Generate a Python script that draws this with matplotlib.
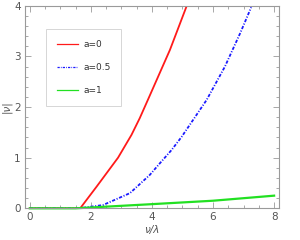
import matplotlib
matplotlib.use("Agg")
import matplotlib.pyplot as plt
from matplotlib.ticker import MultipleLocator

# ── Curves ────────────────────────────────────────────────────────────────────
red_x   = [0.0, 1.65, 2.19, 2.89, 3.33, 3.60, 3.88, 4.59, 5.14]
red_y   = [0.0, 0.00, 0.43, 1.00, 1.45, 1.78, 2.16, 3.13, 4.00]

blue_x  = [0.0, 1.60, 2.40, 3.28, 3.93, 4.26, 4.64, 4.97, 5.79, 6.39, 6.89, 7.25]
blue_y  = [0.0, 0.00, 0.065, 0.30, 0.66, 0.89, 1.15, 1.41, 2.14, 2.80, 3.46, 3.97]

green_x = [0.0, 1.50, 3.93, 6.00, 8.00]
green_y = [0.0, 0.00, 0.08, 0.15, 0.25]

labels = ["a=0", "a=0.5", "a=1"]

GRAY = "#9a9a9a"
TXT  = "#555555"

fig = plt.figure(figsize=(3.0, 2.4), dpi=100)
ax = fig.add_axes([0.083, 0.132, 0.847, 0.844])

ax.plot(red_x, red_y, color="#ff1a1a", lw=1.3, label=labels[0])
ax.plot(blue_x, blue_y, color="#1a1aff", lw=1.3,
        linestyle=(0, (1.8, 0.9, 0.6, 0.9)), label=labels[1])
ax.plot(green_x, green_y, color="#22e022", lw=1.6, label=labels[2], clip_on=False)

ax.set_xlim(-0.16, 8.16)
ax.set_ylim(0, 4)

ax.xaxis.set_major_locator(MultipleLocator(2))
ax.xaxis.set_minor_locator(MultipleLocator(0.5))
ax.yaxis.set_major_locator(MultipleLocator(1))
ax.yaxis.set_minor_locator(MultipleLocator(0.2))
ax.tick_params(which="both", direction="in", top=True, right=True,
               color=GRAY, labelcolor=TXT, labelsize=7.5, width=0.6)
ax.tick_params(which="major", length=4, pad=3)
ax.tick_params(which="minor", length=2)
for s in ax.spines.values():
    s.set_color(GRAY)
    s.set_linewidth(0.8)

ax.set_xlabel("ν/λ", color=TXT, fontsize=7.5, labelpad=2, style="italic")
ax.set_ylabel("|ν|", color=TXT, fontsize=7.5, labelpad=2, style="italic")

leg = ax.legend(loc="upper left", bbox_to_anchor=(0.083, 0.885),
                fontsize=6.5, frameon=True, fancybox=False,
                labelspacing=1.55, handlelength=2.4, handletextpad=0.5,
                borderpad=1.2, borderaxespad=0)
leg.get_frame().set_edgecolor("#cccccc")
leg.get_frame().set_linewidth(0.7)
for t in leg.get_texts():
    t.set_color("#333333")
for h in leg.get_lines():
    h.set_linewidth(0.9)

fig.savefig("out.png", dpi=100)
